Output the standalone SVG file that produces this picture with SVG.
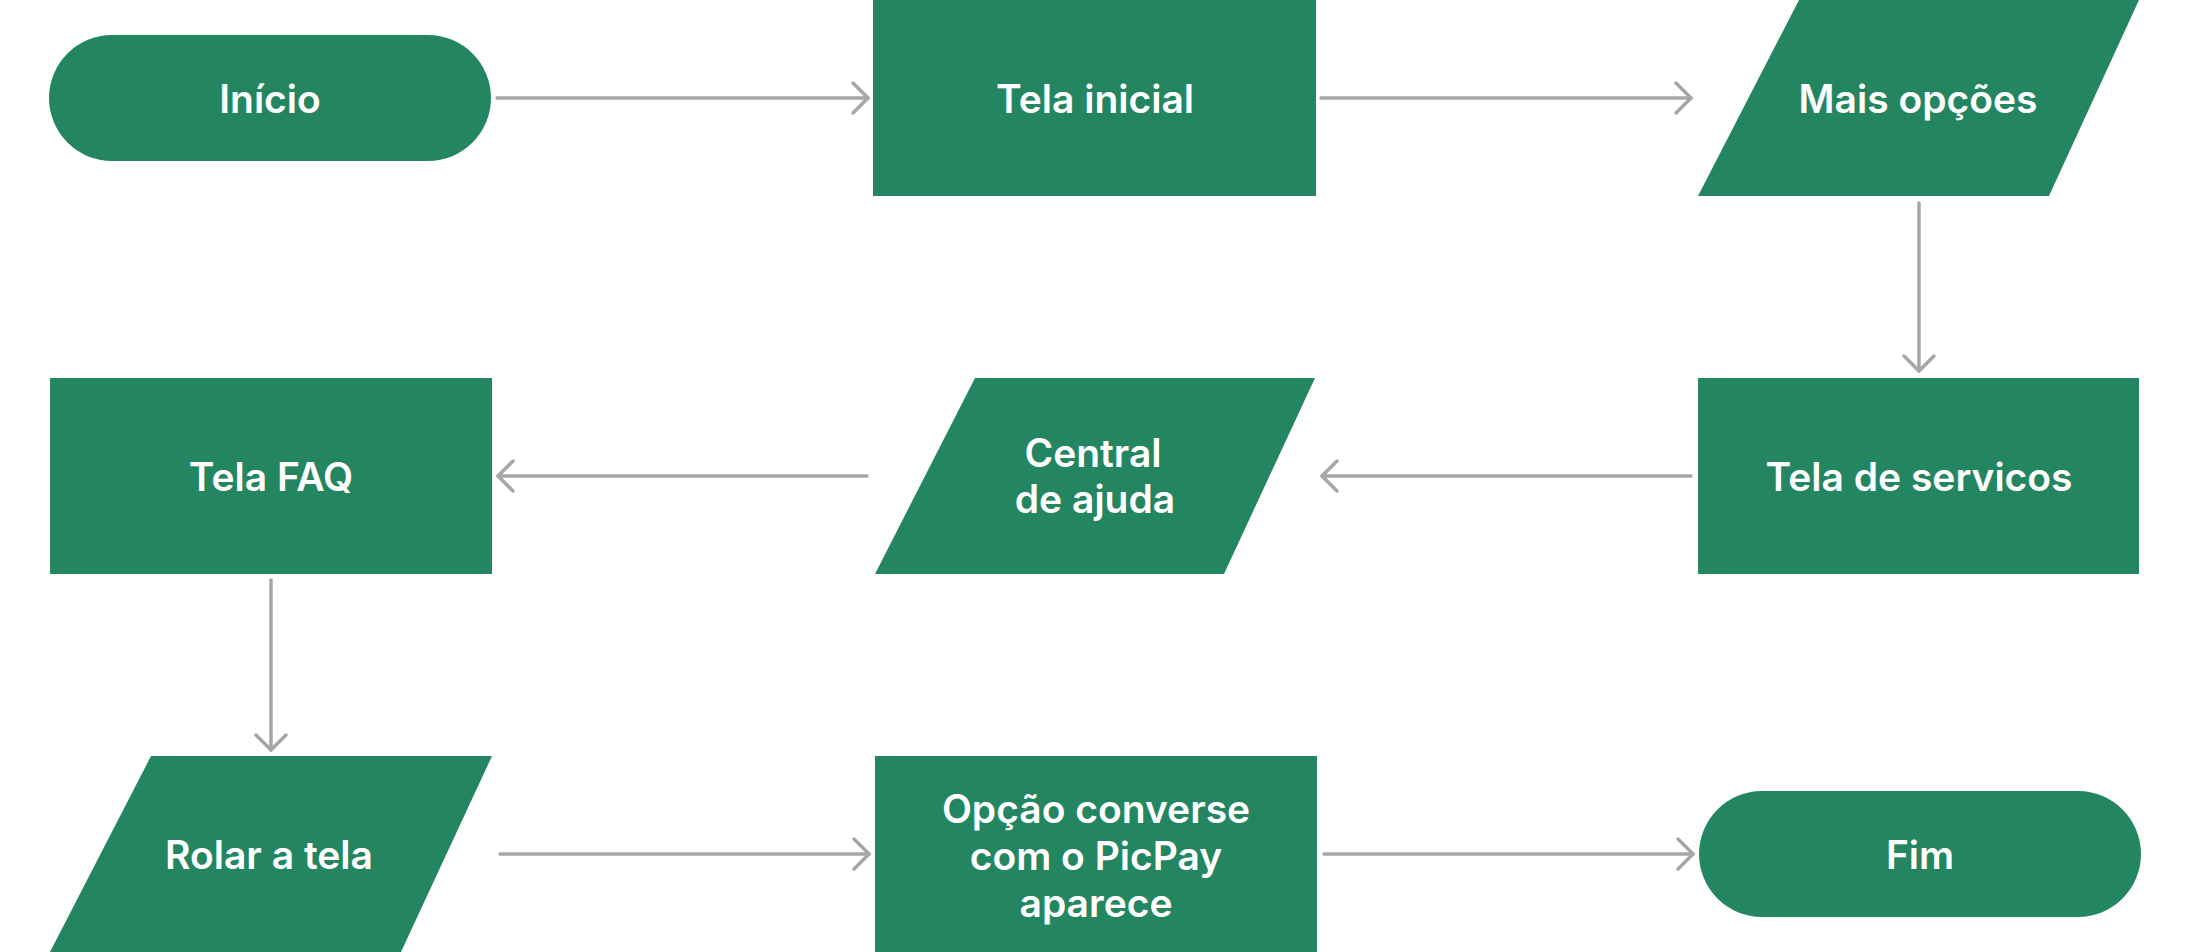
<svg xmlns="http://www.w3.org/2000/svg" width="2190" height="952" viewBox="0 0 2190 952">
  <defs>
    <style>
      .node { fill: #248660; }
      .label { fill: #ffffff; font-family: Inter, "Noto Sans", "Liberation Sans", sans-serif; font-weight: 600; font-size: 39px; text-anchor: middle; }
      .edge { stroke: #a6a6a6; stroke-width: 3.5; stroke-linecap: round; fill: none; }
    </style>
    <marker id="arrow" markerUnits="userSpaceOnUse" viewBox="-20 -20 40 40" markerWidth="40" markerHeight="40" refX="0" refY="0" orient="auto">
      <path d="M-15,-15 L0,0 L-15,15" fill="none" stroke="#a6a6a6" stroke-width="3.5" stroke-linecap="round" stroke-linejoin="round"/>
    </marker>
  </defs>
  <rect width="2190" height="952" fill="#ffffff"/>

  <g id="connectors">
    <line class="edge" x1="497" y1="98" x2="868" y2="98" marker-end="url(#arrow)"/>
    <line class="edge" x1="1321" y1="98" x2="1691" y2="98" marker-end="url(#arrow)"/>
    <line class="edge" x1="1919" y1="203" x2="1919" y2="371" marker-end="url(#arrow)"/>
    <line class="edge" x1="1691" y1="476" x2="1322" y2="476" marker-end="url(#arrow)"/>
    <line class="edge" x1="867" y1="476" x2="498" y2="476" marker-end="url(#arrow)"/>
    <line class="edge" x1="271" y1="580" x2="271" y2="750" marker-end="url(#arrow)"/>
    <line class="edge" x1="500" y1="854" x2="869" y2="854" marker-end="url(#arrow)"/>
    <line class="edge" x1="1324" y1="854" x2="1693" y2="854" marker-end="url(#arrow)"/>
  </g>

  <g id="inicio">
    <rect class="node" x="49" y="35" width="442" height="126" rx="63" ry="63"/>
    <text class="label" x="270" y="113">Início</text>
  </g>
  <g id="tela-inicial">
    <rect class="node" x="873" y="0" width="443" height="196"/>
    <text class="label" x="1095" y="113">Tela inicial</text>
  </g>
  <g id="mais-opcoes">
    <polygon class="node" points="1799,0 2139,0 2049,196 1698,196"/>
    <text class="label" x="1918" y="113">Mais opções</text>
  </g>
  <g id="tela-servicos">
    <rect class="node" x="1698" y="378" width="441" height="196"/>
    <text class="label" x="1919" y="491">Tela de servicos</text>
  </g>
  <g id="central-ajuda">
    <polygon class="node" points="975,378 1315,378 1224,574 875,574"/>
    <text class="label" x="1093" y="467">Central</text>
    <text class="label" x="1095" y="513">de ajuda</text>
  </g>
  <g id="tela-faq">
    <rect class="node" x="50" y="378" width="442" height="196"/>
    <text class="label" x="271" y="491">Tela FAQ</text>
  </g>
  <g id="rolar-tela">
    <polygon class="node" points="151,756 492,756 401,952 50,952"/>
    <text class="label" x="269" y="869">Rolar a tela</text>
  </g>
  <g id="opcao-converse">
    <rect class="node" x="875" y="756" width="442" height="196"/>
    <text class="label" x="1096" y="823">Opção converse</text>
    <text class="label" x="1096" y="870">com o PicPay</text>
    <text class="label" x="1096" y="917">aparece</text>
  </g>
  <g id="fim">
    <rect class="node" x="1699" y="791" width="442" height="126" rx="63" ry="63"/>
    <text class="label" x="1920" y="869">Fim</text>
  </g>
</svg>
